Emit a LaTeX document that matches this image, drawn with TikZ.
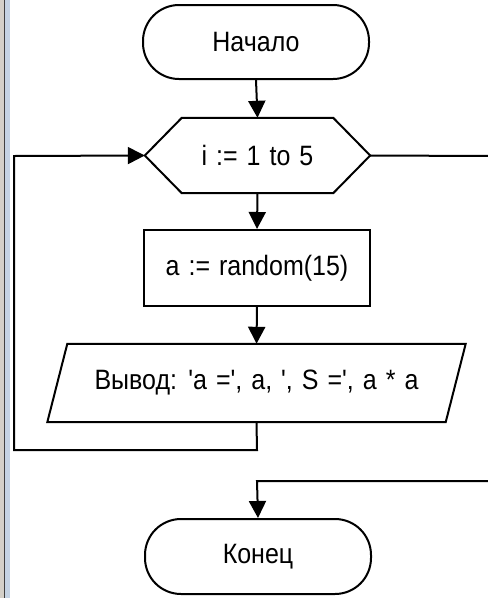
\documentclass[tikz,border=0pt]{standalone}
\usepackage{fontspec}
\setmainfont{Liberation Sans}[Ligatures=TeXOff]
\usetikzlibrary{arrows.meta}
\definecolor{frameg}{HTML}{D4D0C8}
\definecolor{frameb}{HTML}{C5D3E3}
\newcommand{\flowfont}{\fontsize{25}{29}\selectfont\spaceskip=0.36em plus 0.1em\relax}
\newcommand{\ft}[1]{\scalebox{1}[1.12]{#1}}
\tikzset{
  box/.style={draw=none, minimum width=#1, inner sep=0pt, font=\flowfont},
  outline/.style={draw=black, line width=2pt, fill=white},
  conn/.style={draw=black, line width=2pt},
  arr/.style={conn, -{Triangle[width=17pt,length=17pt]}},
}
\begin{document}
\begin{tikzpicture}[x=1pt,y=-1pt]
\useasboundingbox (0,0) rectangle (488,598);
\fill[white] (0,0) rectangle (488,598);
% window frame strip on the left
\fill[frameg] (0,0) rectangle (4,598);
\fill[frameb] (5,0) rectangle (10,598);
\draw[black!75, line width=1pt] (4.5,0) -- (4.5,598);
% nodes
\node[box=226pt, minimum height=74pt, draw=black, line width=2pt, rounded corners=36pt] (start) at (256,42) {\ft{Начало}};
\node[box=225pt, minimum height=75pt] (loop) at (257.5,155.5) {};
\draw[outline] (loop.west) -- ([xshift=37pt]loop.north west) -- ([xshift=-37pt]loop.north east) -- (loop.east) -- ([xshift=-37pt]loop.south east) -- ([xshift=37pt]loop.south west) -- cycle;
\node[font=\flowfont] at (loop) {\ft{i := 1 to 5}};
\node[box=226pt, minimum height=76pt, draw=black, line width=2pt] (body) at (257,268) {\ft{a := random(15)}};
\node[box=418pt, minimum height=78pt] (out) at (256.5,383) {};
\draw[outline] ([xshift=20pt]out.north west) -- (out.north east) -- ([xshift=-20pt]out.south east) -- (out.south west) -- cycle;
\node[font=\flowfont] at (out) {\ft{Вывод: 'a =', a, ', S =', a * a}};
\node[box=226pt, minimum height=75pt, draw=black, line width=2pt, rounded corners=36pt] (stop) at (258,556.5) {\ft{Конец}};
% coordinates for free ends and bends
\coordinate (exitR) at (490,156);
\coordinate (backB) at (257,450);
\coordinate (backL) at (14,450);
\coordinate (backT) at (14,156);
\coordinate (inR) at (490,481);
\coordinate (inB) at (257,481);
% connectors
\draw[arr] (start.south) -- (loop.north);
\draw[conn] (loop.east) -- (exitR);
\draw[arr] (loop.south) -- (body.north);
\draw[arr] (body.south) -- (out.north);
\draw[arr] (out.south) -- (backB) -- (backL) -- (backT) -- (loop.west);
\draw[arr] (inR) -- (inB) -- (stop.north);
\end{tikzpicture}
\end{document}
